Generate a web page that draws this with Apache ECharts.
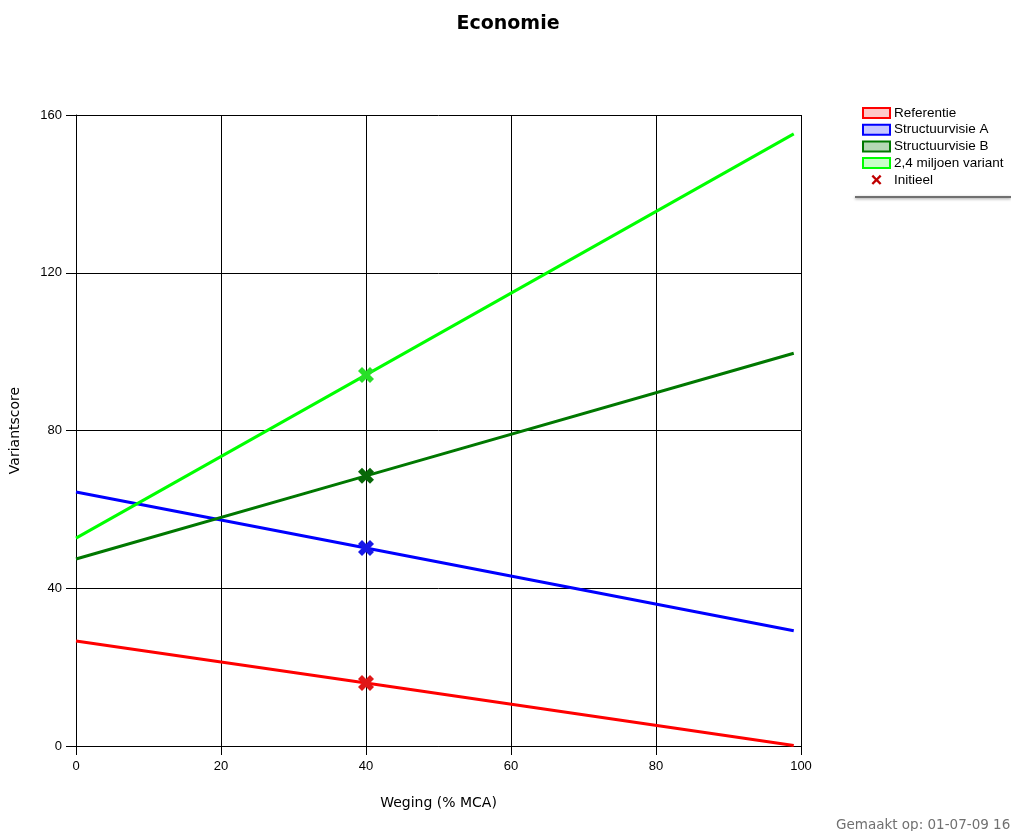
<!DOCTYPE html>
<html>
<head>
<meta charset="utf-8">
<script src="https://cdn.jsdelivr.net/npm/echarts@6/dist/echarts.min.js"></script>
<style>html,body{margin:0;padding:0;background:#fff;}#c{width:1011px;height:831px;}</style>
</head>
<body>
<div id="c"></div>
<script>
const xValues = [0, 40, 99];
const referentie = [26.6, 16.0, 0.1];
const structuurvisieA = [64.4, 50.2, 29.2];
const structuurvisieB = [47.4, 68.5, 99.6];
const variant24 = [52.7, 94.1, 155.2];
const initieelX = 40;
const initieel = [16.0, 50.2, 68.5, 94.1];
const seriesNames = ['Referentie', 'Structuurvisie A', 'Structuurvisie B', '2,4 miljoen variant'];
const xTicks = [0, 20, 40, 60, 80, 100];
const yTicks = [0, 40, 80, 120, 160];

const colors = ['#ff0000', '#0000ff', '#007800', '#00ff00'];
const fills = ['#ffc8c8', '#c8c8ff', '#b4d8b4', '#c8ffc8'];
const markColors = ['#e01818', '#1818e8', '#086808', '#28e028'];
const seriesData = [referentie, structuurvisieA, structuurvisieB, variant24];
const xPath = 'path://M0,4 L4,0 L8,4 L12,0 L16,4 L12,8 L16,12 L12,16 L8,12 L4,16 L0,12 L4,8 Z';

const chart = echarts.init(document.getElementById('c'), null, {renderer: 'canvas'});
const series = seriesNames.map((n, i) => ({
  name: n, type: 'line', symbol: 'none', silent: true,
  data: xValues.map((x, j) => [x, seriesData[i][j]]),
  lineStyle: {color: colors[i], width: 3},
  itemStyle: {color: colors[i]}
}));
series.push({
  name: 'Initieel', type: 'scatter', symbol: xPath, symbolSize: 16, z: 5,
  itemStyle: {color: '#c00000', opacity: 1},
  data: initieel.map((v, i) => ({value: [initieelX, v], itemStyle: {color: markColors[i], opacity: 1}}))
});

chart.setOption({
  animation: false,
  backgroundColor: '#ffffff',
  title: {
    text: 'Economie', left: 503, top: 10, textAlign: 'center',
    textStyle: {fontFamily: 'DejaVu Sans', fontSize: 19, fontWeight: 'bold', color: '#000'}
  },
  legend: {
    orient: 'vertical', left: 862, top: 106, padding: 0,
    itemWidth: 27, itemHeight: 10, itemGap: 2.7,
    textStyle: {fontFamily: 'Liberation Sans', fontSize: 13.5, color: '#000', padding: [0, 0, 0, -1]},
    data: seriesNames.map((n, i) => ({
      name: n, icon: 'rect',
      itemStyle: {color: fills[i], borderColor: colors[i], borderWidth: 2}
    })).concat([{name: 'Initieel', icon: 'path://M0,2 L2,0 L6,4 L10,0 L12,2 L8,6 L12,10 L10,12 L6,8 L2,12 L0,10 L4,6 Z', itemStyle: {color: '#c00000', opacity: 1}}])
  },
  grid: {left: 76, top: 115, right: 210, bottom: 85, containLabel: false},
  xAxis: {
    type: 'value', min: 0, max: 100, interval: 20,
    name: 'Weging (% MCA)', nameLocation: 'middle', nameGap: 50,
    nameTextStyle: {fontFamily: 'DejaVu Sans', fontSize: 14, color: '#000'},
    axisLine: {show: true, lineStyle: {color: '#000', width: 1}},
    axisTick: {show: true, length: 9, lineStyle: {color: '#000'}},
    axisLabel: {fontFamily: 'Liberation Sans', fontSize: 13, color: '#000', margin: 14,
      formatter: v => xTicks.includes(v) ? String(v) : ''},
    splitLine: {show: true, lineStyle: {color: '#000', width: 1}}
  },
  yAxis: {
    type: 'value', min: 0, max: 160, interval: 40,
    name: 'Variantscore', nameLocation: 'middle', nameGap: 54, nameRotate: 90,
    nameTextStyle: {fontFamily: 'DejaVu Sans', fontSize: 14, color: '#000'},
    axisLine: {show: true, lineStyle: {color: '#000', width: 1}},
    axisTick: {show: true, length: 10, lineStyle: {color: '#000'}},
    axisLabel: {fontFamily: 'Liberation Sans', fontSize: 13, color: '#000', margin: 14,
      formatter: v => yTicks.includes(v) ? String(v) : ''},
    splitLine: {show: true, lineStyle: {color: '#000', width: 1}}
  },
  graphic: [
    {type: 'rect', shape: {x: 855, y: 196, width: 156, height: 2},
     style: {fill: '#707070', shadowBlur: 3, shadowColor: 'rgba(0,0,0,0.4)', shadowOffsetY: 1}},
    {type: 'text', left: 836, top: 818,
     style: {text: 'Gemaakt op: 01-07-09 16:42', fill: '#707070', font: '13.5px "DejaVu Sans"'}}
  ],
  series: series
});
</script>
</body>
</html>
